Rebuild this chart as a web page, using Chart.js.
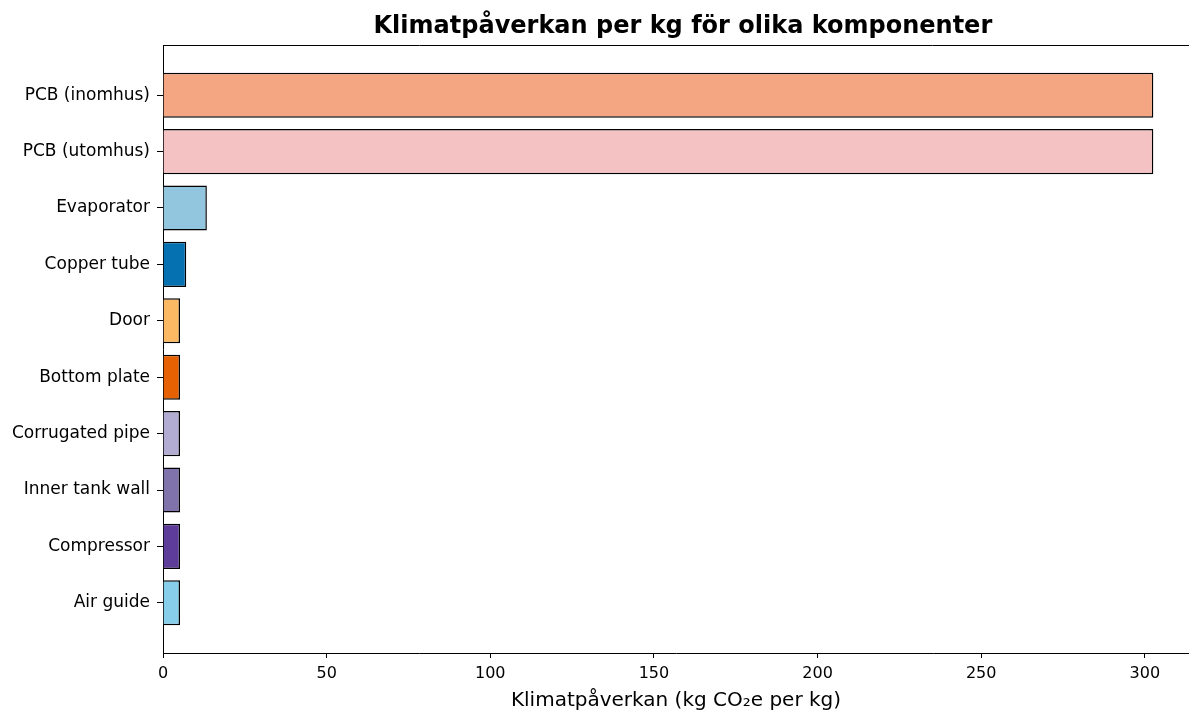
<!DOCTYPE html>
<html lang="sv">
<head>
<meta charset="UTF-8">
<title>Klimatpåverkan per kg</title>
<script src="https://cdn.jsdelivr.net/npm/chart.js@4.4.0/dist/chart.umd.min.js"></script>
<style>
  body { margin: 0; padding: 0; background: #fff; }
  #wrap { width: 1189px; height: 713px; position: relative; }
</style>
</head>
<body>
<div id="wrap"><canvas id="chart" width="1189" height="713"></canvas></div>
<script>
const categories = ['PCB (inomhus)', 'PCB (utomhus)', 'Evaporator', 'Copper tube', 'Door',
  'Bottom plate', 'Corrugated pipe', 'Inner tank wall', 'Compressor', 'Air guide'];
const values = [302.6, 302.6, 13.4, 7.1, 5.2, 5.2, 5.2, 5.2, 5.2, 5.2];
const barColors = ['#f4a582', '#f4c2c2', '#92c5de', '#0571b0', '#fdb863',
  '#e66101', '#b2abd2', '#8073ac', '#5e3c99', '#87ceeb'];
const xTicks = [0, 50, 100, 150, 200, 250, 300];

const titleText = 'Klimatpåverkan per kg för olika komponenter';
const xTitle = 'Klimatpåverkan (kg CO₂e per kg)';

// full matplotlib x-range (image is cropped on the right)
const xFullMax = 317.7;

const titlePlugin = {
  id: 'titlePlugin',
  afterDraw(chart) {
    const ctx = chart.ctx;
    const area = chart.chartArea;
    ctx.save();
    // top spine
    ctx.strokeStyle = '#000';
    ctx.lineWidth = 1;
    ctx.beginPath();
    ctx.moveTo(area.left, area.top + 0.5);
    ctx.lineTo(area.right, area.top + 0.5);
    ctx.stroke();
    // title, centred on the full axes width
    const cx = (area.left + chart.scales.x.getPixelForValue(xFullMax)) / 2;
    ctx.fillStyle = '#000';
    ctx.font = 'bold 24px "DejaVu Sans"';
    ctx.textAlign = 'center';
    ctx.textBaseline = 'middle';
    ctx.fillText(titleText, cx, 27);
    ctx.restore();
  }
};

new Chart(document.getElementById('chart').getContext('2d'), {
  type: 'bar',
  data: {
    datasets: [{
      data: values.map((v, i) => ({ x: v, y: i })),
      backgroundColor: barColors,
      borderColor: '#000',
      borderWidth: 1.5,
      barPercentage: 0.8,
      categoryPercentage: 1.0
    }]
  },
  options: {
    indexAxis: 'y',
    responsive: false,
    animation: false,
    layout: { padding: { top: 45, right: 0, bottom: 0, left: 0 } },
    plugins: {
      legend: { display: false },
      tooltip: { enabled: false }
    },
    scales: {
      x: {
        type: 'linear',
        min: 0,
        max: 313.5,
        afterBuildTicks: scale => { scale.ticks = xTicks.map(v => ({ value: v })); },
        afterFit: scale => { scale.height = 60; },
        grid: { display: true, drawOnChartArea: false, drawTicks: true, tickLength: 5, color: '#000' },
        border: { display: true, color: '#000', width: 1 },
        ticks: { color: '#000', font: { family: 'DejaVu Sans', size: 16 }, padding: 6, maxRotation: 0 },
        title: {
          display: true,
          text: xTitle,
          color: '#000',
          font: { family: 'DejaVu Sans', size: 20 },
          padding: { top: 0, bottom: 0 }
        }
      },
      y: {
        type: 'linear',
        reverse: true,
        offset: false,
        min: -0.89,
        max: 9.89,
        afterBuildTicks: scale => { scale.ticks = categories.map((c, i) => ({ value: i })); },
        afterFit: scale => { scale.width = 163; },
        grid: { display: true, offset: false, drawOnChartArea: false, drawTicks: true, tickLength: 6, color: '#000' },
        border: { display: true, color: '#000', width: 1 },
        ticks: {
          color: '#000',
          font: { family: 'DejaVu Sans', size: 17 },
          padding: 7,
          callback: v => categories[v]
        }
      }
    }
  },
  plugins: [titlePlugin]
});
</script>
</body>
</html>
